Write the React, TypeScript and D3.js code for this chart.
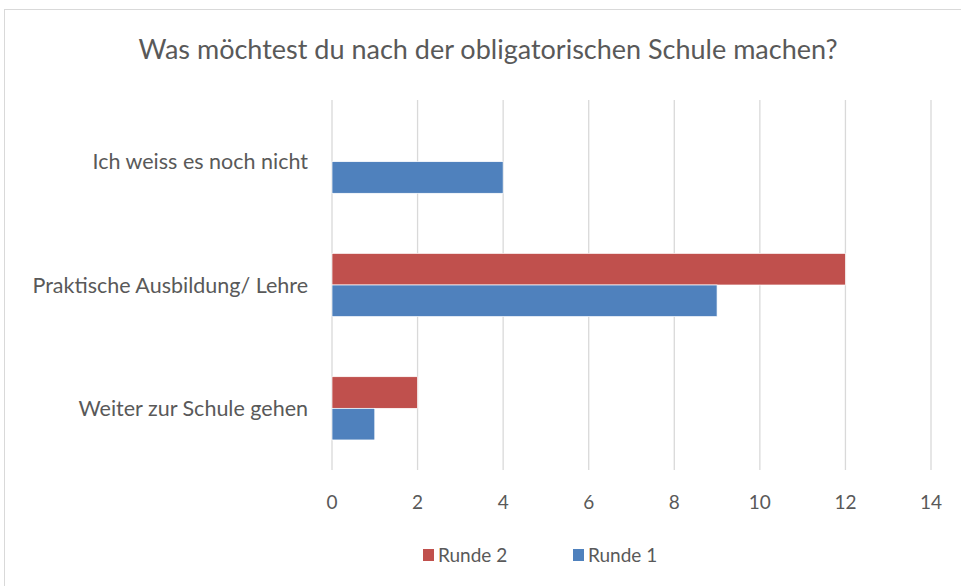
import React, { useEffect, useRef } from 'react';
import * as d3 from 'd3';

const categories = ['Ich weiss es noch nicht', 'Praktische Ausbildung/ Lehre', 'Weiter zur Schule gehen'];
const seriesNames = ['Runde 2', 'Runde 1'];
const runde2 = [0, 12, 2];
const runde1 = [4, 9, 1];
const xTicks = [0, 2, 4, 6, 8, 10, 12, 14];
const colors = ['#C0504D', '#4F81BD'];

const App = () => {
    const svgRef = useRef<SVGSVGElement>(null);

    useEffect(() => {
        const svg = d3.select(svgRef.current);
        svg.selectAll('*').remove();

        const width = 961;
        const height = 586;
        const plot = { left: 332, right: 931, top: 100, bottom: 470 };
        const font = 'Lato, Carlito, Calibri, sans-serif';
        const textColor = '#595959';

        svg.attr('width', width).attr('height', height);

        svg.append('rect')
            .attr('width', width).attr('height', height)
            .attr('fill', '#fff');

        // chart border
        svg.append('rect')
            .attr('x', 4.5).attr('y', 9.5)
            .attr('width', 970).attr('height', 600)
            .attr('fill', 'none')
            .attr('stroke', '#d9d9d9');

        const x = d3.scaleLinear().domain([0, 14]).range([plot.left, plot.right]);
        const y = d3.scaleBand().domain(categories).range([plot.top, plot.bottom]);
        const inner = d3.scaleBand().domain(seriesNames)
            .range([0, y.bandwidth()]).paddingOuter(0.95);

        // gridlines
        svg.append('g')
            .selectAll('line')
            .data(xTicks)
            .join('line')
            .attr('x1', (d) => x(d)).attr('x2', (d) => x(d))
            .attr('y1', plot.top).attr('y2', plot.bottom)
            .attr('stroke', '#d9d9d9')
            .attr('stroke-width', 1.3);

        // bars
        const rows = categories.map((c, i) => ({ c, vals: [runde2[i], runde1[i]] }));
        const grp = svg.append('g')
            .selectAll('g')
            .data(rows)
            .join('g')
            .attr('transform', (d) => `translate(0,${y(d.c)})`);

        grp.selectAll('rect')
            .data((d) => d.vals.map((v, j) => ({ v, s: seriesNames[j], j })))
            .join('rect')
            .filter((d) => d.v > 0)
            .attr('x', x(0))
            .attr('y', (d) => inner(d.s)!)
            .attr('width', (d) => x(d.v) - x(0))
            .attr('height', inner.bandwidth())
            .attr('fill', (d) => colors[d.j])
            .attr('stroke', '#fff')
            .attr('stroke-width', 0.7);

        // category labels
        svg.append('g')
            .selectAll('text')
            .data(categories)
            .join('text')
            .attr('x', 308)
            .attr('y', (d) => y(d)! + y.bandwidth() / 2)
            .attr('dy', '0.35em')
            .attr('text-anchor', 'end')
            .attr('fill', textColor)
            .style('font-family', font)
            .style('font-size', '21.5px')
            .text((d) => d);

        // tick labels
        svg.append('g')
            .selectAll('text')
            .data(xTicks)
            .join('text')
            .attr('x', (d) => x(d))
            .attr('y', 502)
            .attr('dy', '0.35em')
            .attr('text-anchor', 'middle')
            .attr('fill', textColor)
            .style('font-family', font)
            .style('font-size', '19px')
            .text((d) => d);

        // title
        svg.append('text')
            .attr('x', 488)
            .attr('y', 50)
            .attr('dy', '0.35em')
            .attr('text-anchor', 'middle')
            .attr('fill', textColor)
            .style('font-family', font)
            .style('font-size', '27px')
            .text('Was möchtest du nach der obligatorischen Schule machen?');

        // legend
        const legendX = [423, 573];
        const leg = svg.append('g')
            .selectAll('g')
            .data(seriesNames)
            .join('g')
            .attr('transform', (d, i) => `translate(${legendX[i]},555)`);
        leg.append('rect')
            .attr('x', 0).attr('y', -6)
            .attr('width', 11).attr('height', 12)
            .attr('fill', (d, i) => colors[i]);
        leg.append('text')
            .attr('x', 15)
            .attr('dy', '0.35em')
            .attr('fill', textColor)
            .style('font-family', font)
            .style('font-size', '19px')
            .text((d) => d);
    }, []);

    return (
        <svg ref={svgRef} style={{ position: 'absolute', left: 0, top: 0 }} />
    );
};

export default App;
